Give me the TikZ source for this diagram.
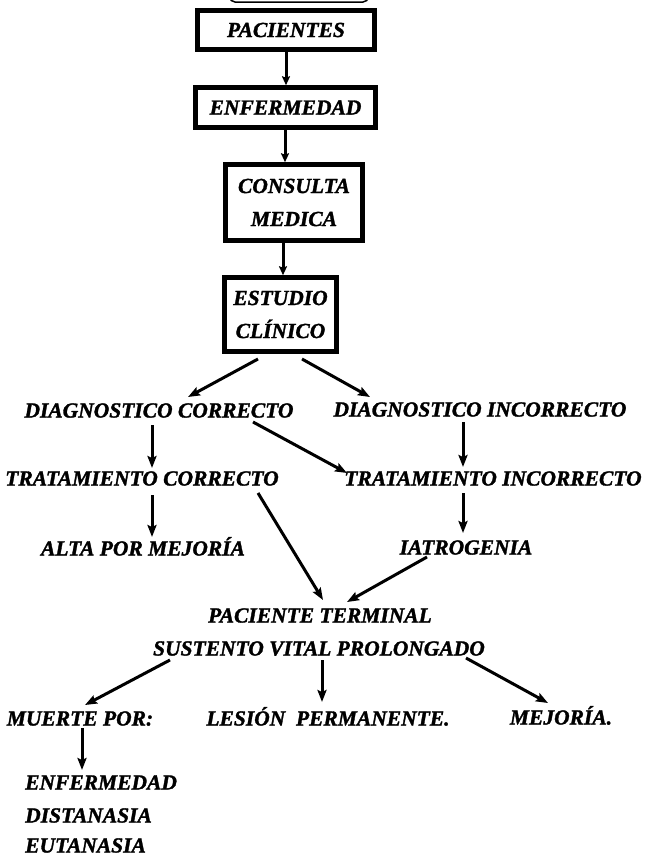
\documentclass[tikz,border=0pt]{standalone}
\usepackage{fontspec}
\setmainfont{Liberation Serif}[BoldItalicFeatures={FakeBold=1.5}]
\usetikzlibrary{arrows.meta}
\begin{document}
\begin{tikzpicture}[x=1pt,y=-1pt,
  txt/.style={inner sep=0pt,text height=15pt,text depth=0pt,font=\fontsize{21.5}{33}\selectfont\bfseries\itshape},
  boxn/.style={draw,line width=4.5pt,inner sep=0pt,align=center,font=\fontsize{21.5}{33}\selectfont\bfseries\itshape},
  arr/.style={line width=3pt,-{Stealth[length=12pt,width=9pt,inset=2pt]}},
  sarr/.style={line width=3pt,-{Stealth[length=9pt,width=8pt,inset=1.5pt]}}]
\useasboundingbox (0,0) rectangle (652,857);
% partial shape cut at the top
\draw[line width=1.5pt,rounded corners=5pt] (228,-20) -- (230,2) -- (368,2) -- (370,-20);
% boxes
\node[boxn,minimum width=177pt,minimum height=39pt] (p) at (286,30) {PACIENTES};
\node[boxn,minimum width=180pt,minimum height=40pt] (e) at (285.5,107.5) {ENFERMEDAD};
\node[boxn,minimum width=137pt,minimum height=76pt] (c) at (294,202.5) {CONSULTA\\MEDICA};
\node[boxn,minimum width=112pt,minimum height=74pt] (es) at (280.5,314.5) {ESTUDIO\\CLÍNICO};
% text nodes
\node[txt] (dc) at (159,410) {DIAGNOSTICO CORRECTO};
\node[txt] (di) at (480,409) {DIAGNOSTICO INCORRECTO};
\node[txt] (tc) at (142,478) {TRATAMIENTO CORRECTO};
\node[txt] (ti) at (493,478) {TRATAMIENTO INCORRECTO};
\node[txt] (alta) at (143,548) {ALTA POR MEJORÍA};
\node[txt] (ia) at (466,547) {IATROGENIA};
\node[txt] (pt) at (320,615) {PACIENTE TERMINAL};
\node[txt] (svp) at (319,648) {SUSTENTO VITAL PROLONGADO};
\node[txt] (mu) at (80,718) {MUERTE POR:};
\node[txt] (le) at (328,718) {LESIÓN\ \ PERMANENTE.};
\node[txt] (me) at (561,717) {MEJORÍA.};
\node[txt,anchor=west] (en) at (25,782) {ENFERMEDAD};
\node[txt,anchor=west] (ds) at (25,815) {DISTANASIA};
\node[txt,anchor=west] (eu) at (25,845) {EUTANASIA};
% connectors between boxes
\draw[sarr] (p.south) -- (p.south |- e.north);
\draw[sarr] ([xshift=-0.5pt]e.south) -- ([xshift=-0.5pt]e.south |- c.north);
\draw[sarr] ([xshift=-11pt]c.south) -- ([xshift=-11pt]c.south |- es.north);
% lower connectors
\draw[arr] ([shift={(-22.5,44.5)}]es.center) -- ([shift={(29,-13)}]dc.center);
\draw[arr] ([shift={(21.5,44.5)}]es.center) -- ([shift={(-110,-12)}]di.center);
\draw[arr] ([shift={(-7,15)}]dc.center) -- ([shift={(10,-10)}]tc.center);
\draw[arr] ([shift={(94,12)}]dc.center) -- ([shift={(-146,-5)}]ti.center);
\draw[arr] ([shift={(-17,13)}]di.center) -- ([shift={(-30,-11)}]ti.center);
\draw[arr] ([shift={(10,17)}]tc.center) -- ([shift={(9,-11)}]alta.center);
\draw[arr] ([shift={(-30,15)}]ti.center) -- ([shift={(-3,-14)}]ia.center);
\draw[arr] ([shift={(116,15)}]tc.center) -- ([shift={(3,-15)}]pt.center);
\draw[arr] ([shift={(-39,10)}]ia.center) -- ([shift={(27,-13)}]pt.center);
\draw[arr] ([shift={(-149,12)}]svp.center) -- ([shift={(5,-13)}]mu.center);
\draw[arr] ([shift={(3,12)}]svp.center) -- ([shift={(-6,-16)}]le.center);
\draw[arr] ([shift={(147,10)}]svp.center) -- ([shift={(-13,-14)}]me.center);
\draw[arr] ([shift={(2,10)}]mu.center) -- ([shift={(57,-12)}]en.west);
\end{tikzpicture}
\end{document}
